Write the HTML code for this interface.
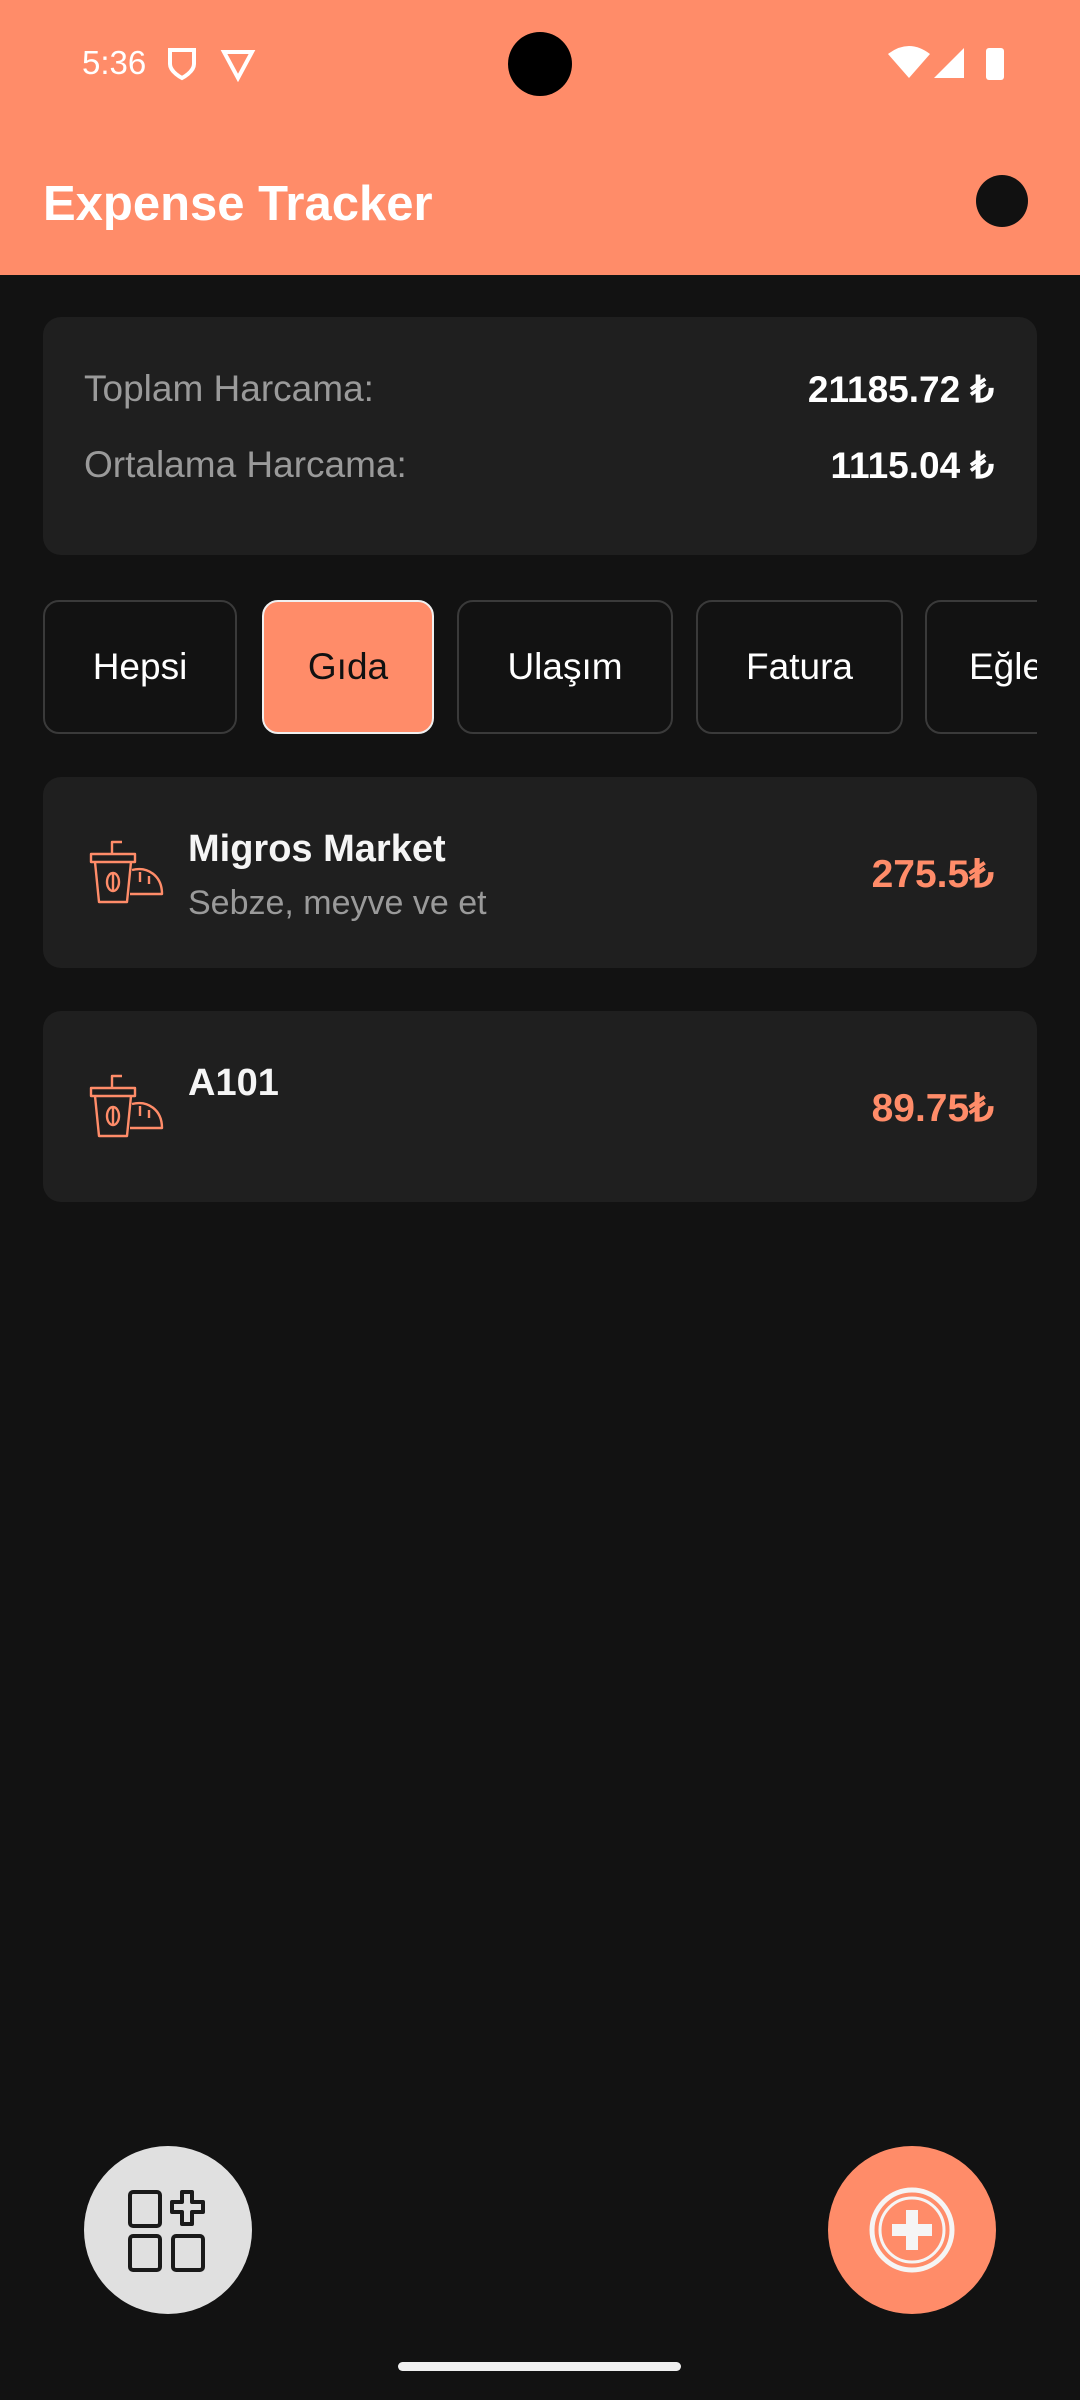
<!DOCTYPE html>
<html><head><meta charset="utf-8"><style>
*{box-sizing:border-box;margin:0;padding:0}
body{width:1080px;height:2400px;background:#121212;font-family:"Liberation Sans",sans-serif;position:relative;overflow:hidden;color:#fff}
.abs{position:absolute}
.header{left:0;top:0;width:1080px;height:275px;background:#FF8C69}
.card{background:#1f1f1f;border-radius:18px}
.chip{top:600px;height:134px;border:2px solid #3a3a3a;border-radius:16px;font-size:37px;display:flex;align-items:center;justify-content:center;color:#fff;background:#121212}
.lbl{font-size:37px;color:#9a9a9a}
.val{font-size:37px;font-weight:bold;right:86px;text-align:right}
.amt{font-size:39px;font-weight:bold;color:#FF8C69;right:86px}
</style></head><body>
<div class="abs header"></div>
<div class="abs" style="left:82px;top:44px;font-size:33px;color:#fff">5:36</div>
<svg class="abs" style="left:166px;top:46px" width="90" height="36"><path d="M4 4h24v14c0 8-12 14-12 14S4 26 4 18z" fill="none" stroke="#fff" stroke-width="4"/><path d="M58 6h28L72 32z" fill="none" stroke="#fff" stroke-width="4"/></svg>
<div class="abs" style="left:508px;top:32px;width:64px;height:64px;border-radius:50%;background:#000"></div>
<svg class="abs" style="left:888px;top:44px" width="120" height="38"><path d="M0 10 Q21 -6 42 10 L21 34z" fill="#fff"/><path d="M76 34 L76 4 L46 34z" fill="#fff"/><rect x="98" y="4" width="18" height="32" rx="3" fill="#fff"/></svg>
<div class="abs" style="left:43px;top:176px;font-size:49px;font-weight:bold;color:#fff">Expense Tracker</div>
<div class="abs" style="left:976px;top:175px;width:52px;height:52px;border-radius:50%;background:#111"></div>

<div class="abs card" style="left:43px;top:317px;width:994px;height:238px"></div>
<div class="abs lbl" style="left:84px;top:368px">Toplam Harcama:</div>
<div class="abs val" style="top:368px">21185.72 ₺</div>
<div class="abs lbl" style="left:84px;top:444px">Ortalama Harcama:</div>
<div class="abs val" style="top:444px">1115.04 ₺</div>

<div class="abs" style="left:43px;top:600px;width:994px;height:134px;overflow:hidden">
<div class="abs chip" style="left:0;top:0;width:194px">Hepsi</div>
<div class="abs chip" style="left:219px;top:0;width:172px;background:#FF8C69;border-color:#f0f0f0;color:#111">Gıda</div>
<div class="abs chip" style="left:414px;top:0;width:216px">Ulaşım</div>
<div class="abs chip" style="left:653px;top:0;width:207px">Fatura</div>
<div class="abs chip" style="left:882px;top:0;width:200px;justify-content:flex-start;padding-left:42px">Eğlence</div>
</div>

<div class="abs card" style="left:43px;top:777px;width:994px;height:191px"></div>
<svg class="abs" style="left:88px;top:838px" width="76" height="70" viewBox="0 0 76 66"><g fill="none" stroke="#FF8C69" stroke-width="2.4" stroke-linejoin="round"><path d="M24 14V2h10"/><path d="M3 14h44v8H3z"/><path d="M7 22l4 40h28l4-40"/><ellipse cx="25" cy="42" rx="6" ry="9"/><path d="M25 34v16"/><path d="M44 30c16-4 30 6 30 24h-32"/><path d="M52 32v10M61 36v8"/></g></svg>
<div class="abs" style="left:188px;top:828px;font-size:38px;font-weight:bold;color:#f5f5f5">Migros Market</div>
<div class="abs" style="left:188px;top:884px;font-size:34px;color:#9a9a9a">Sebze, meyve ve et</div>
<div class="abs amt" style="top:852px">275.5₺</div>

<div class="abs card" style="left:43px;top:1011px;width:994px;height:191px"></div>
<svg class="abs" style="left:88px;top:1072px" width="76" height="70" viewBox="0 0 76 66"><g fill="none" stroke="#FF8C69" stroke-width="2.4" stroke-linejoin="round"><path d="M24 14V2h10"/><path d="M3 14h44v8H3z"/><path d="M7 22l4 40h28l4-40"/><ellipse cx="25" cy="42" rx="6" ry="9"/><path d="M25 34v16"/><path d="M44 30c16-4 30 6 30 24h-32"/><path d="M52 32v10M61 36v8"/></g></svg>
<div class="abs" style="left:188px;top:1062px;font-size:38px;font-weight:bold;color:#f5f5f5">A101</div>
<div class="abs amt" style="top:1086px">89.75₺</div>

<div class="abs" style="left:84px;top:2146px;width:168px;height:168px;border-radius:50%;background:#e0e0e0">
<svg width="168" height="168" viewBox="0 0 168 168"><g fill="none" stroke="#1a1a1a" stroke-width="4"><rect x="46" y="46" width="30" height="34" rx="3"/><rect x="46" y="90" width="30" height="34" rx="3"/><rect x="89" y="90" width="30" height="34" rx="3"/><path d="M98 46h10v10h11v10h-11v12h-10v-12h-10v-10h10z" stroke-linejoin="round"/></g></svg></div>
<div class="abs" style="left:828px;top:2146px;width:168px;height:168px;border-radius:50%;background:#FF8C69">
<svg width="168" height="168" viewBox="0 0 168 168"><g fill="none" stroke="#f5f5f5"><circle cx="84" cy="84" r="40" stroke-width="5"/><circle cx="84" cy="84" r="32" stroke-width="3"/></g><path d="M78 64h12v14h14v12h-14v14h-12v-14h-14v-12h14z" fill="#f5f5f5"/></svg></div>
<div class="abs" style="left:398px;top:2362px;width:283px;height:9px;border-radius:5px;background:#f0f0f0"></div>
</body></html>
